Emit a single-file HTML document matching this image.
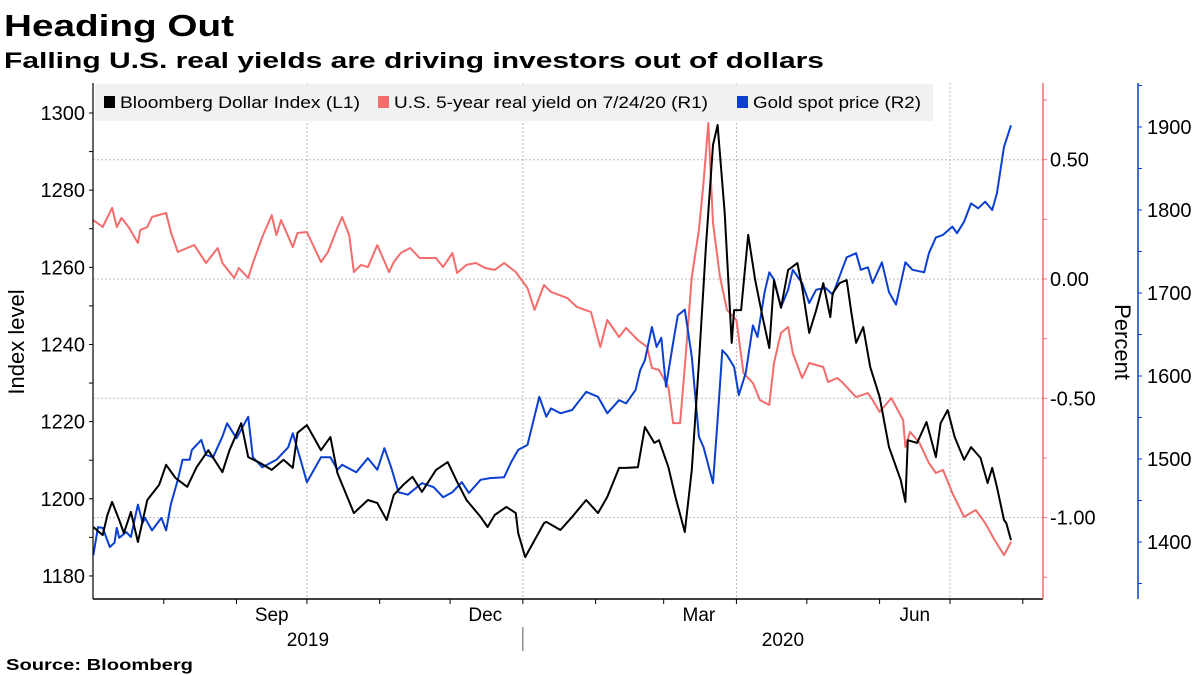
<!DOCTYPE html>
<html><head><meta charset="utf-8"><style>
html,body{margin:0;padding:0;background:#fff;}
svg{display:block;font-family:"Liberation Sans","DejaVu Sans",sans-serif;}
</style></head><body>
<svg id="chart" width="1200" height="675" viewBox="0 0 1200 675" xmlns="http://www.w3.org/2000/svg">
<text x="4" y="36" font-size="31" font-weight="bold" textLength="230" lengthAdjust="spacingAndGlyphs">Heading Out</text>
<text x="4" y="68" font-size="22" font-weight="bold" textLength="820" lengthAdjust="spacingAndGlyphs">Falling U.S. real yields are driving investors out of dollars</text>
<g id="grid"></g>
<rect x="95" y="84" width="838" height="37" fill="#f1f1f1"/>
<g>
<rect x="104" y="96" width="11" height="12" fill="#000"/>
<text x="120" y="108" font-size="17" textLength="240" lengthAdjust="spacingAndGlyphs">Bloomberg Dollar Index (L1)</text></g>
<g>
<rect x="378" y="96" width="11" height="12" fill="#f46d6d"/>
<text x="394" y="108" font-size="17" textLength="314" lengthAdjust="spacingAndGlyphs">U.S. 5-year real yield on 7/24/20 (R1)</text></g>
<g>
<rect x="737" y="96" width="11" height="12" fill="#0a3fd1"/>
<text x="753" y="108" font-size="17" textLength="168" lengthAdjust="spacingAndGlyphs">Gold spot price (R2)</text></g>
<g id="series"></g>
<g id="axes"></g>
<text transform="translate(24,342) rotate(-90)" text-anchor="middle" font-size="22">Index level</text>
<text transform="translate(1115,342) rotate(90)" text-anchor="middle" font-size="22">Percent</text>
<text x="6" y="670" font-size="16" font-weight="bold" textLength="187" lengthAdjust="spacingAndGlyphs">Source:  Bloomberg</text>
</svg>
<script>
// Days since 2019-07-01, values
const dxyDays=[1,5,7,9,12,14,17,20,24,29,32,36,41,45,50,56,59,64,67,72,77,82,86,88,92,98,102,105,112,118,122,126,129,133,137,141,147,152,156,160,166,169,172,177,181,182,185,189,193,194,200,205,211,216,220,225,228,233,236,240,242,246,249,253,256,259,262,265,267,270,273,274,277,280,283,286,289,291,294,297,301,303,306,309,312,315,316,319,322,324,326,329,332,336,340,345,347,348,352,356,360,362,365,368,372,375,379,382,384,386,389,390,392];
const dxyVals=[1192.7,1190.6,1195.8,1199.2,1194.5,1191.1,1196.6,1188.8,1199.7,1203.6,1208.8,1205.4,1203.1,1208.2,1212.6,1206.9,1212.6,1219.6,1210.8,1209.3,1207.5,1210.1,1208.0,1217.1,1219.1,1212.6,1216.0,1206.7,1196.3,1199.7,1198.9,1194.5,1201.0,1203.6,1205.7,1201.8,1207.5,1209.5,1204.4,1199.7,1195.3,1192.7,1195.8,1197.9,1196.3,1191.1,1184.9,1189.3,1193.7,1194.0,1191.9,1195.3,1199.7,1196.3,1200.5,1208.0,1208.0,1208.2,1218.6,1214.5,1215.2,1208.2,1200.5,1191.4,1207.5,1235.2,1265.3,1291.7,1296.9,1274.1,1240.4,1248.9,1248.9,1268.4,1256.7,1247.6,1239.1,1256.7,1249.5,1259.3,1261.1,1254.9,1243.0,1248.9,1255.9,1247.1,1253.3,1255.9,1256.7,1248.2,1240.4,1244.5,1234.2,1226.4,1213.4,1204.9,1199.2,1215.2,1214.5,1219.9,1210.8,1219.6,1223.0,1216.0,1210.1,1213.4,1210.6,1204.1,1208.0,1203.1,1194.5,1193.7,1189.3];
const yieldDays=[1,5,9,11,13,16,20,21,24,26,32,34,37,41,44,49,54,56,61,63,67,69,73,77,79,81,86,88,92,98,101,105,107,110,112,115,118,122,127,129,132,136,140,147,150,154,156,160,164,168,172,176,181,186,189,193,196,203,207,213,217,220,225,228,233,237,239,242,246,248,251,253,256,259,261,263,265,268,271,275,278,282,285,289,291,294,297,299,303,306,312,314,318,320,326,331,333,336,341,346,347,349,353,357,360,363,367,372,377,381,385,389,392];
const yieldVals=[0.247,0.218,0.298,0.218,0.256,0.218,0.151,0.205,0.218,0.260,0.277,0.197,0.113,0.130,0.142,0.067,0.130,0.067,0.004,0.046,0.004,0.067,0.176,0.268,0.184,0.247,0.134,0.193,0.197,0.071,0.113,0.214,0.260,0.184,0.029,0.059,0.050,0.142,0.029,0.071,0.109,0.130,0.088,0.088,0.050,0.109,0.025,0.059,0.067,0.046,0.038,0.067,0.029,-0.038,-0.130,-0.025,-0.054,-0.080,-0.117,-0.138,-0.285,-0.172,-0.243,-0.205,-0.256,-0.285,-0.373,-0.381,-0.453,-0.604,-0.604,-0.369,0.008,0.205,0.407,0.654,0.235,0.008,-0.130,-0.172,-0.394,-0.436,-0.507,-0.528,-0.352,-0.226,-0.201,-0.310,-0.415,-0.352,-0.369,-0.432,-0.415,-0.432,-0.495,-0.478,-0.507,-0.557,-0.499,-0.591,-0.704,-0.641,-0.687,-0.771,-0.813,-0.800,-0.897,-0.997,-0.968,-1.023,-1.094,-1.157,-1.102];
const goldDays=[1,3,5,8,10,11,12,15,17,20,22,23,26,30,32,34,37,39,42,43,47,49,52,56,58,62,67,69,73,79,84,86,89,92,98,102,105,107,113,118,122,125,128,131,135,141,146,150,154,158,161,166,170,176,179,182,186,191,194,196,200,205,211,216,220,225,228,232,234,236,239,241,243,245,248,250,253,256,259,261,265,267,269,271,274,276,279,282,284,287,289,291,294,297,299,303,306,309,313,316,320,322,326,328,331,333,337,340,343,347,350,355,357,360,363,367,369,372,375,378,381,384,386,389,392];
const goldVals=[1384,1418,1417,1394,1399,1417,1405,1412,1406,1445,1423,1429,1414,1429,1414,1445,1475,1499,1499,1511,1523,1505,1502,1527,1543,1525,1551,1502,1490,1499,1514,1531,1502,1472,1502,1502,1487,1493,1484,1501,1487,1513,1489,1460,1457,1471,1466,1454,1460,1472,1459,1475,1477,1478,1496,1511,1517,1575,1551,1561,1555,1559,1581,1575,1555,1571,1567,1583,1607,1619,1659,1635,1646,1587,1640,1673,1680,1623,1527,1514,1471,1547,1631,1625,1611,1577,1604,1661,1647,1701,1725,1716,1683,1704,1728,1712,1688,1704,1706,1698,1728,1743,1748,1728,1731,1712,1737,1701,1686,1737,1728,1725,1748,1767,1770,1780,1772,1786,1808,1802,1810,1800,1820,1876,1902];
const leftTicks=[1180,1200,1220,1240,1260,1280,1300];
const r1Ticks=[0.5,0,-0.5,-1];
const r1Labels=["0.50","0.00","-0.50","-1.00"];
const r2Ticks=[1400,1500,1600,1700,1800,1900];
const monthDays=[0,31,62,92,123,153,184,215,244,275,305,336,366,397];
const monthLabels=[["Sep",77],["Dec",168],["Mar",259],["Jun",351]];

const NS="http://www.w3.org/2000/svg";
const X0=91,PXD=2.347,AX_L=93,AX_R=1043,AX_B=599,TOP=83;
const xS=d=>X0+d*PXD;
const yL=v=>113+(1300-v)*3.858;
const yR1=v=>279-v*238.6;
const yR2=v=>127+(1900-v)*0.83;
function mk(tag,attrs,parent){const e=document.createElementNS(NS,tag);for(const k in attrs)e.setAttribute(k,attrs[k]);parent.appendChild(e);return e;}
const grid=document.getElementById('grid'),series=document.getElementById('series'),axes=document.getElementById('axes');
r1Ticks.forEach(v=>{const l=mk('line',{x1:AX_L,x2:AX_R,y1:yR1(v),y2:yR1(v),stroke:'#bbb','stroke-dasharray':'2,2','stroke-width':1},grid);

});
[92,184,275,366].forEach(d=>{const l=mk('line',{x1:xS(d),x2:xS(d),y1:TOP,y2:AX_B,stroke:'#bbb','stroke-dasharray':'2,2','stroke-width':1},grid);

});
function path(days,vals,ys,color,name){
  const d=days.map((dd,i)=>(i?'L':'M')+xS(dd).toFixed(1)+','+Math.max(TOP,ys(vals[i])).toFixed(1)).join('');
  const p=mk('path',{d:d,fill:'none',stroke:color,'stroke-width':2,'stroke-linejoin':'round'},series);
  
  
}
path(yieldDays,yieldVals,yR1,'#f46d6d','real-yield-line');
path(goldDays,goldVals,yR2,'#0a3fd1','gold-price-line');
path(dxyDays,dxyVals,yL,'#000','dollar-index-line');
mk('line',{x1:AX_L,x2:AX_L,y1:TOP,y2:AX_B,stroke:'#000','stroke-width':1.2},axes);
mk('line',{x1:AX_L,x2:AX_R,y1:AX_B,y2:AX_B,stroke:'#000','stroke-width':1.5},axes);
mk('line',{x1:AX_R,x2:AX_R,y1:TOP,y2:AX_B,stroke:'#f46d6d','stroke-width':1.5},axes);
mk('line',{x1:1138,x2:1138,y1:TOP,y2:AX_B,stroke:'#0a3fd1','stroke-width':1.5},axes);
for(let v=1180;v<=1300;v+=10){mk('line',{x1:AX_L-4,x2:AX_L,y1:yL(v),y2:yL(v),stroke:'#000'},axes);}
leftTicks.forEach(v=>{const t=mk('text',{x:AX_L-8,y:yL(v)+7,'text-anchor':'end','font-size':20},axes);t.textContent=v;

});
for(let v=-1.25;v<=0.75;v+=0.25){mk('line',{x1:AX_R,x2:AX_R+4,y1:yR1(v),y2:yR1(v),stroke:'#f46d6d'},axes);}
r1Ticks.forEach((v,i)=>{const t=mk('text',{x:AX_R+7,y:yR1(v)+7,'font-size':20},axes);t.textContent=r1Labels[i];

});
for(let v=1350;v<=1950;v+=50){mk('line',{x1:1138,x2:1142,y1:yR2(v),y2:yR2(v),stroke:'#0a3fd1'},axes);}
r2Ticks.forEach(v=>{const t=mk('text',{x:1147,y:yR2(v)+7,'font-size':20},axes);t.textContent=v;

});
monthDays.forEach(d=>{const x=xS(d);if(x>AX_L&&x<AX_R)mk('line',{x1:x,x2:x,y1:AX_B,y2:AX_B+5,stroke:'#000'},axes);});
monthLabels.forEach(m=>{const t=mk('text',{x:xS(m[1]),y:621,'text-anchor':'middle','font-size':19},axes);t.textContent=m[0];

});
const yr1=mk('text',{x:(AX_L+xS(184))/2,y:646,'text-anchor':'middle','font-size':19},axes);yr1.textContent='2019';


const yr2=mk('text',{x:(xS(184)+AX_R)/2,y:646,'text-anchor':'middle','font-size':19},axes);yr2.textContent='2020';


mk('line',{x1:xS(184),x2:xS(184),y1:627,y2:651,stroke:'#555'},axes);
</script>
</body></html>
